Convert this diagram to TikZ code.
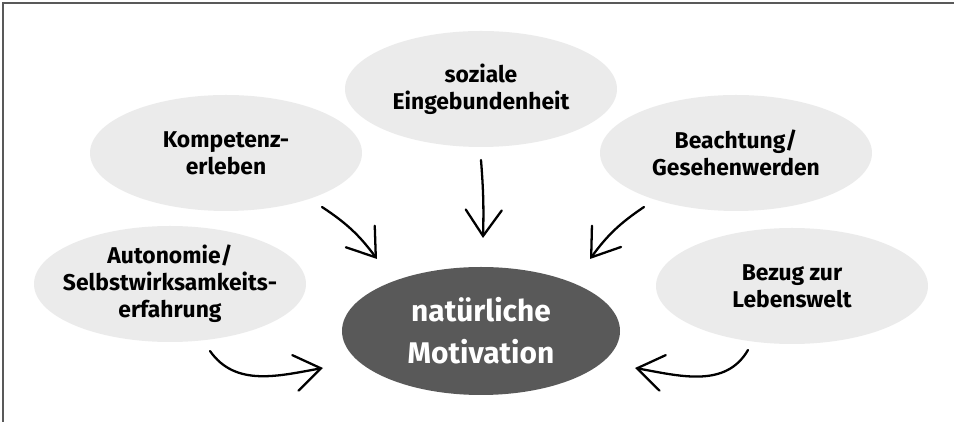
\documentclass[tikz,border=0pt]{standalone}
\usepackage{fontspec}
\setmainfont{Fira Sans}
\usepackage{tikz}
\usetikzlibrary{shapes.geometric,arrows.meta}
\definecolor{bubblegray}{HTML}{EBEBEB}
\definecolor{coregray}{HTML}{595959}

\begin{document}
\begin{tikzpicture}[
    bubble/.style={ellipse, fill=bubblegray, minimum width=5.44cm, minimum height=2.32cm,
                   inner xsep=-0.8cm, inner ysep=-0.5cm, align=center,
                   font=\bfseries\fontsize{13}{15.4}\selectfont},
    core/.style={ellipse, fill=coregray, text=white, minimum width=5.56cm, minimum height=2.56cm,
                 inner xsep=-0.8cm, inner ysep=-0.5cm, align=center,
                 font=\bfseries\fontsize{17}{24}\selectfont},
    pfeil/.style={line width=1.3pt, line cap=round,
                  -{Straight Barb[length=5.2mm,width=7.2mm,line cap=round]}}]
     \useasboundingbox (0,0) rectangle (19.08,-8.44);                                   % page size
     \draw [line width=1pt, black!65] (0.06,-8.44) -- (0.06,-0.06) -- (19.08,-0.06);     % frame, top and left only
     \node[bubble] (soz)   at (9.62,-1.78)  {soziale\\Eingebundenheit};
     \node[bubble] (komp)  at (4.52,-3.06)  {Kompetenz-\\erleben};
     \node[bubble] (beach) at (14.72,-3.06) {Beachtung/\\Gesehenwerden};
     \node[bubble] (auto)  at (3.40,-5.68)  {Autonomie/\\Selbstwirksamkeits-\\erfahrung};
     \node[bubble] (bezug) at (15.84,-5.72) {Bezug zur\\Lebenswelt};
     \node[core]   (mot)   at (9.62,-6.62)  {natürliche\\Motivation};                        % center
     \draw [pfeil] ([shift={(1.92,-1.08)}]komp.center)  to[bend left=10]  ([shift={(-2.08,1.44)}]mot.center);
     \draw [pfeil] ([shift={(0,-1.42)}]soz.center)      to[bend left=3]   ([shift={(0.04,1.86)}]mot.center);
     \draw [pfeil] ([shift={(-1.84,-1.08)}]beach.center) to[bend right=10] ([shift={(2.18,1.44)}]mot.center);
     \draw [pfeil] ([shift={(0.80,-1.34)}]auto.center)  to[out=-55,in=190] ([shift={(-3.16,-0.74)}]mot.center);
     \draw [pfeil] ([shift={(-0.88,-1.28)}]bezug.center) to[out=-120,in=-10] ([shift={(3.08,-0.74)}]mot.center);
  \end{tikzpicture}
\end{document}
